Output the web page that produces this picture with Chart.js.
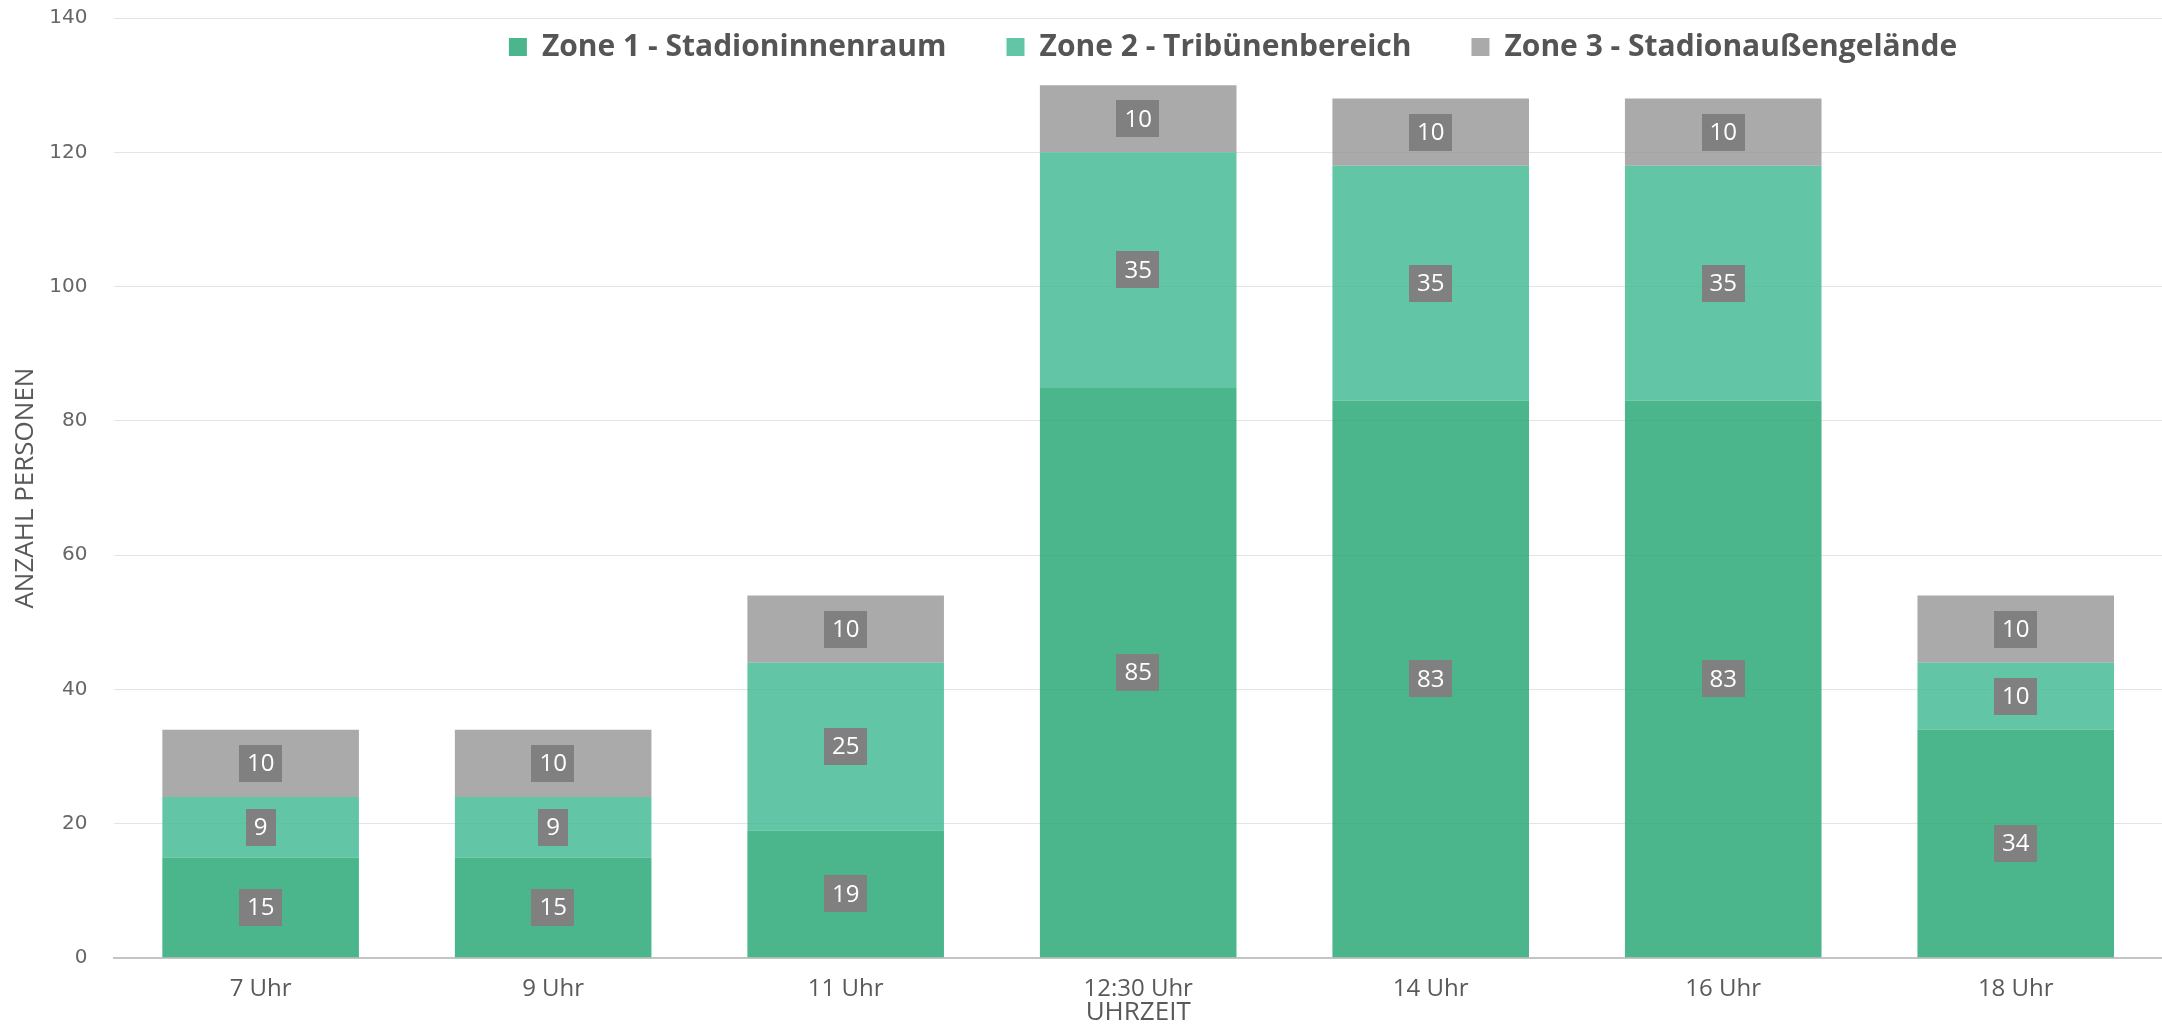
<!DOCTYPE html>
<html>
<head>
<meta charset="utf-8">
<script src="https://cdn.jsdelivr.net/npm/chart.js@4.4.1/dist/chart.umd.min.js"></script>
<style>
  body { margin: 0; background: #fff; }
  #wrap { width: 2162px; height: 1025px; position: relative; }
</style>
</head>
<body>
<div id="wrap"><canvas id="zonenChart"></canvas></div>
<script>
// Werte aus dem Diagramm
const categories = ['7 Uhr', '9 Uhr', '11 Uhr', '12:30 Uhr', '14 Uhr', '16 Uhr', '18 Uhr'];
const zoneNames = ['Zone 1 - Stadioninnenraum', 'Zone 2 - Tribünenbereich', 'Zone 3 - Stadionaußengelände'];
const zone1 = [15, 15, 19, 85, 83, 83, 34];
const zone2 = [9, 9, 25, 35, 35, 35, 10];
const zone3 = [10, 10, 10, 10, 10, 10, 10];
const yMax = 140;
const yStep = 20;

const colors = ['rgba(44,168,120,0.85)', 'rgba(70,188,150,0.85)', 'rgba(155,155,155,0.85)'];

// legend sits inside the plot, shifted to the right like in the original
const legendMover = {
    id: 'legendMover',
    afterLayout: function(chart) {
        var lg = chart.legend;
        if (!lg) return;
        var center = 1233;
        lg.left = 2 * center - lg.right;
        lg.width = lg.right - lg.left;
        lg.top = -28;
        lg.bottom = 120;
        lg.height = lg.bottom - lg.top;
    }
};

// grey value boxes in the middle of each segment
const valueBoxes = {
    id: 'valueBoxes',
    afterDatasetsDraw: function(chart) {
        var ctx = chart.ctx;
        ctx.save();
        ctx.font = '24px "Open Sans"';
        ctx.textAlign = 'center';
        ctx.textBaseline = 'middle';
        chart.data.datasets.forEach(function(ds, i) {
            var meta = chart.getDatasetMeta(i);
            meta.data.forEach(function(bar, j) {
                var p = bar.getProps(['x', 'y', 'base'], true);
                var cy = (p.y + p.base) / 2;
                var txt = String(ds.data[j]);
                var w = ctx.measureText(txt).width + 16;
                var h = 37;
                ctx.fillStyle = '#808080';
                ctx.fillRect(Math.round(p.x - w / 2), Math.round(cy - h / 2), Math.round(w), h);
                ctx.fillStyle = '#ffffff';
                ctx.fillText(txt, p.x, cy + 1);
            });
        });
        ctx.restore();
    }
};

const datasets = [zone1, zone2, zone3].map(function(vals, i) {
    return {
        label: zoneNames[i],
        data: vals,
        backgroundColor: colors[i],
        borderWidth: 0,
        categoryPercentage: 0.8,
        barPercentage: 0.84
    };
});

new Chart(document.getElementById('zonenChart'), {
    type: 'bar',
    data: { labels: categories, datasets: datasets },
    plugins: [legendMover, valueBoxes],
    options: {
        responsive: true,
        maintainAspectRatio: false,
        animation: false,
        layout: { padding: { top: 17, left: 6, right: 0, bottom: 0 } },
        plugins: {
            tooltip: { enabled: false },
            legend: {
                position: 'top',
                maxHeight: 1,
                labels: {
                    boxWidth: 18,
                    boxHeight: 18,
                    padding: 60,
                    color: '#555555',
                    font: { family: '"Open Sans"', size: 30, weight: 'bold' }
                }
            }
        },
        scales: {
            x: {
                stacked: true,
                grid: { display: false },
                border: { display: true, color: '#c4c4c4', width: 2 },
                ticks: {
                    color: '#595959',
                    padding: 9,
                    font: { family: '"Open Sans"', size: 24 }
                },
                title: {
                    display: true,
                    text: 'UHRZEIT',
                    color: '#595959',
                    padding: { top: -13, bottom: -1 },
                    font: { family: '"Open Sans"', size: 26, lineHeight: 1 }
                }
            },
            y: {
                stacked: true,
                min: 0,
                max: yMax,
                border: { display: false },
                grid: {
                    drawTicks: true,
                    tickLength: 24,
                    tickColor: 'rgba(0,0,0,0)',
                    color: function(c) { return c.tick && c.tick.value === 0 ? '#c4c4c4' : '#e4e4e4'; },
                    lineWidth: function(c) { return c.tick && c.tick.value === 0 ? 2 : 1; }
                },
                ticks: {
                    stepSize: yStep,
                    padding: 3,
                    color: '#666666',
                    font: { family: '"DejaVu Sans"', size: 20 }
                },
                title: {
                    display: true,
                    text: 'ANZAHL PERSONEN',
                    color: '#595959',
                    padding: { top: 4, bottom: 5 },
                    font: { family: '"Open Sans"', size: 26 }
                }
            }
        }
    }
});
</script>
</body>
</html>
